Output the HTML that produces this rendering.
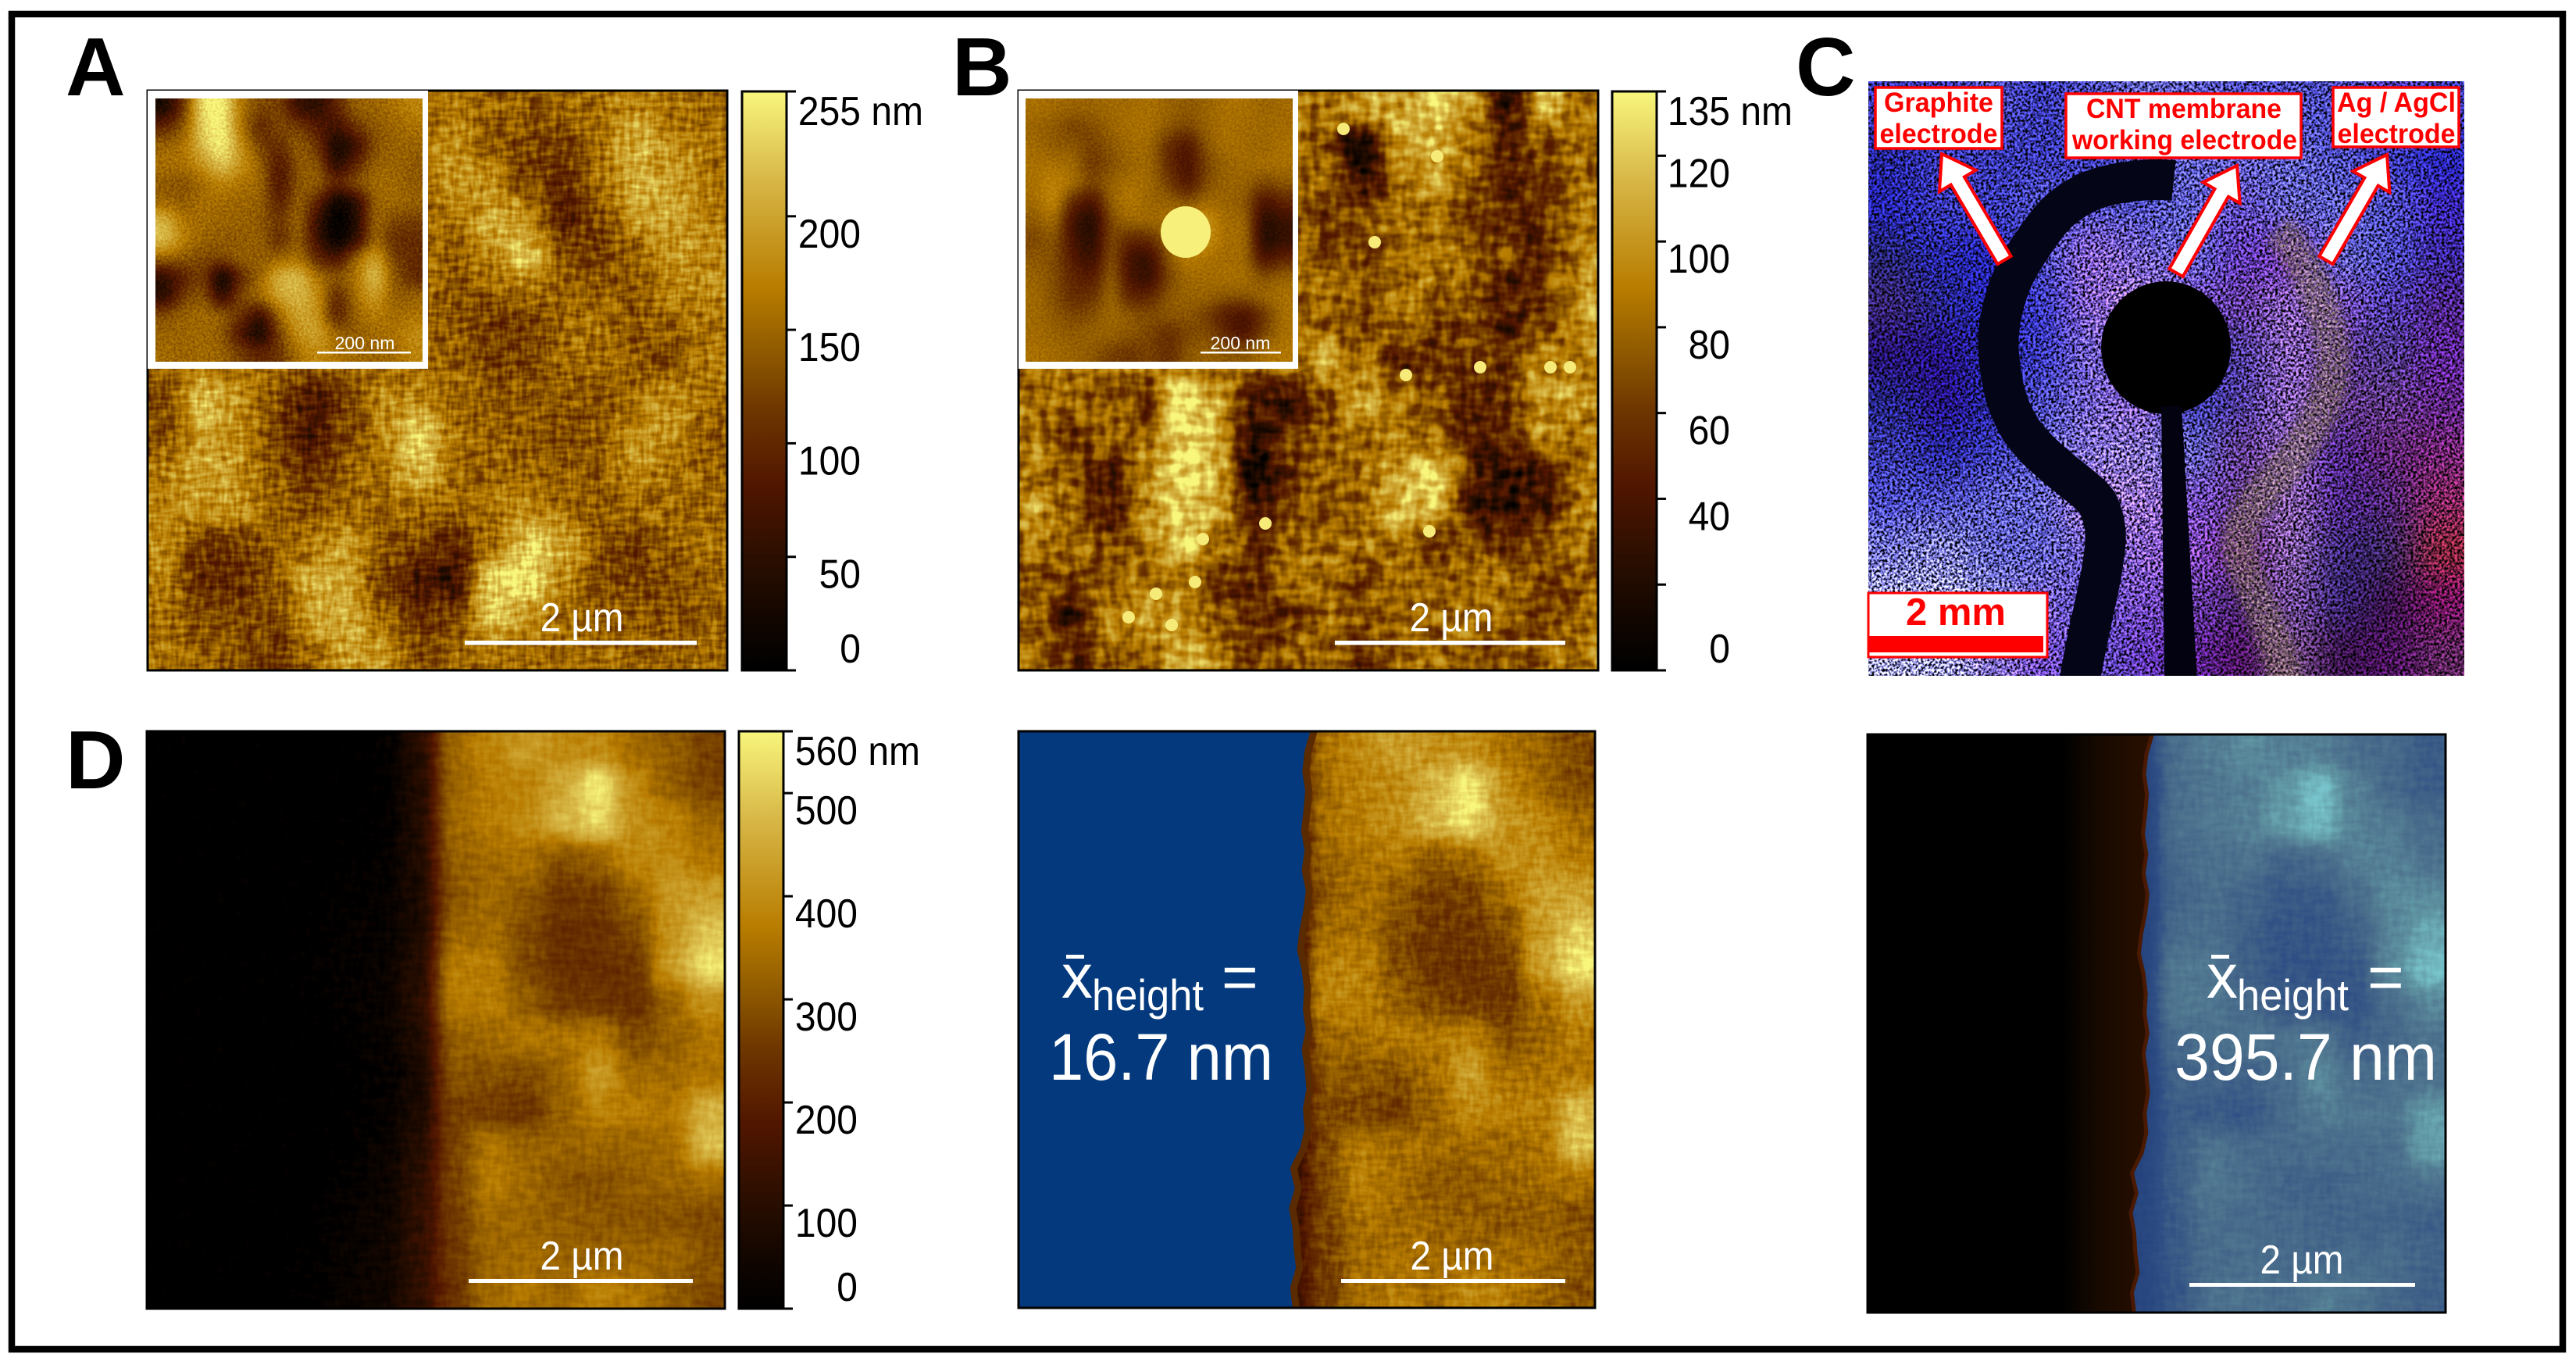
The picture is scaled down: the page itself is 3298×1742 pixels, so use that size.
<!DOCTYPE html>
<html lang="en">
<head>
<meta charset="utf-8">
<title>AFM height maps of CNT membrane</title>
<style>
html,body{margin:0;padding:0;background:#fff;}
svg{display:block;font-family:"Liberation Sans",Arial,sans-serif;}
</style>
</head>
<body>
<svg id="fig" xmlns="http://www.w3.org/2000/svg" width="3298" height="1742" viewBox="0 0 3298 1742">
<defs id="defs">
  <clipPath id="clipA"><rect x="189" y="116" width="742" height="742"/></clipPath>
  <clipPath id="clipAi"><rect x="199" y="126" width="342" height="337"/></clipPath>
  <clipPath id="clipB"><rect x="1304" y="116" width="742" height="742"/></clipPath>
  <clipPath id="clipBi"><rect x="1313" y="126" width="342" height="337"/></clipPath>
  <clipPath id="clipC"><rect x="2392" y="104" width="763" height="761"/></clipPath>
  <clipPath id="clipD"><rect x="188" y="936" width="740" height="739"/></clipPath>
  <clipPath id="clipM"><rect x="1304" y="936" width="738" height="738"/></clipPath>
  <clipPath id="clipR"><rect x="2391" y="940" width="740" height="740"/></clipPath>
  <filter id="speckC" filterUnits="userSpaceOnUse" x="2300" y="20" width="950" height="940" color-interpolation-filters="sRGB">
    <feGaussianBlur in="SourceGraphic" stdDeviation="22" result="h"/>
    <feTurbulence type="fractalNoise" baseFrequency=".3" numOctaves="3" seed="9"/>
    <feColorMatrix values="2.6 0 0 0 -.8  2.6 0 0 0 -.8  2.6 0 0 0 -.8  0 0 0 0 1" result="n"/>
    <feComposite in="h" in2="n" operator="arithmetic" k1="2" k2="0" k3="0" k4="0" result="m"/>
    <feColorMatrix in="m" values="1 0 0 0 0  0 1 0 0 0  0 0 1 0 0  0 0 0 0 1"/>
  </filter>
  <filter id="speckS" filterUnits="userSpaceOnUse" x="2300" y="20" width="950" height="940" color-interpolation-filters="sRGB">
    <feGaussianBlur in="SourceGraphic" stdDeviation="6" result="h"/>
    <feTurbulence type="fractalNoise" baseFrequency=".3" numOctaves="3" seed="21"/>
    <feColorMatrix values="2.6 0 0 0 -.8  2.6 0 0 0 -.8  2.6 0 0 0 -.8  0 0 0 1 0" result="n"/>
    <feComposite in="h" in2="n" operator="arithmetic" k1="2" k2="0" k3="0" k4="0"/>
  </filter>
  <linearGradient id="cbar" x1="0" y1="1" x2="0" y2="0"></linearGradient>
  <linearGradient id="rightMask" x1="0" x2="1" y1="0" y2="0">
    <stop offset="0" stop-color="#000"/><stop offset=".68" stop-color="#000"/><stop offset=".8" stop-color="#160900"/><stop offset="1" stop-color="#2a1000"/>
  </linearGradient>
</defs>

<rect x="0" y="0" width="3298" height="1742" fill="#fff"/>
<rect x="15" y="18" width="3266" height="1709" fill="none" stroke="#000" stroke-width="8.5"/>

<g id="panelA"></g>
<g id="panelB"></g>
<g id="panelC"></g>
<g id="panelD"></g>
<g id="panelM"></g>
<g id="panelR"></g>
<g id="bars"></g>
<g id="overlay">
  <g fill="#000" font-weight="700" font-size="106">
    <text x="84" y="122">A</text>
    <text x="1219" y="122">B</text>
    <text x="2299" y="122">C</text>
    <text x="84" y="1009">D</text>
  </g>

  <g fill="#fff" font-size="52" text-anchor="middle">
    <text x="745" y="808" textLength="107" lengthAdjust="spacingAndGlyphs">2 µm</text>
    <text x="1858" y="808" textLength="107" lengthAdjust="spacingAndGlyphs">2 µm</text>
    <text x="745" y="1625" textLength="107" lengthAdjust="spacingAndGlyphs">2 µm</text>
    <text x="1859" y="1625" textLength="107" lengthAdjust="spacingAndGlyphs">2 µm</text>
    <text x="2947" y="1630" textLength="107" lengthAdjust="spacingAndGlyphs">2 µm</text>
  </g>
  <g fill="#fff">
    <rect x="595" y="820" width="297" height="5.5"/>
    <rect x="1709" y="820" width="295" height="5.5"/>
    <rect x="600" y="1637" width="287" height="5"/>
    <rect x="1717" y="1637" width="287" height="5"/>
    <rect x="2803" y="1642" width="289" height="5"/>
    <rect x="406" y="450" width="120" height="2.5"/>
    <rect x="1537" y="450" width="103" height="2.5"/>
  </g>
  <g fill="#fff" font-size="23" text-anchor="middle">
    <text x="467" y="447">200 nm</text>
    <text x="1588" y="447">200 nm</text>
  </g>

  <g id="callouts">
    <rect x="2401" y="112" width="162" height="78" fill="#fff" stroke="#f00" stroke-width="3.5"/>
    <rect x="2645" y="120" width="301" height="82" fill="#fff" stroke="#f00" stroke-width="3.5"/>
    <rect x="2987" y="112" width="161" height="76" fill="#fff" stroke="#f00" stroke-width="3.5"/>
    <g fill="#f00" font-weight="700" font-size="35" text-anchor="middle">
      <text x="2482" y="143" textLength="140" lengthAdjust="spacingAndGlyphs">Graphite</text>
      <text x="2482" y="183" textLength="151" lengthAdjust="spacingAndGlyphs">electrode</text>
      <text x="2796" y="151" textLength="250" lengthAdjust="spacingAndGlyphs">CNT membrane</text>
      <text x="2797" y="191" textLength="288" lengthAdjust="spacingAndGlyphs">working electrode</text>
      <text x="3068" y="143" textLength="152" lengthAdjust="spacingAndGlyphs">Ag / AgCl</text>
      <text x="3068" y="183" textLength="151" lengthAdjust="spacingAndGlyphs">electrode</text>
    </g>
    <rect x="2392" y="759" width="229" height="82" fill="#fff" stroke="#f00" stroke-width="3"/>
    <rect x="2392" y="814" width="224" height="21" fill="#f00"/>
    <text x="2504" y="800" fill="#f00" font-weight="700" font-size="49" text-anchor="middle">2 mm</text>
  </g>

  <g fill="#fff">
    <text x="1359" y="1277" font-size="80">x</text>
    <rect x="1365" y="1222" width="23" height="5"/>
    <text x="1398" y="1293" font-size="56" textLength="143" lengthAdjust="spacingAndGlyphs">height</text>
    <text x="1564" y="1278" font-size="80">=</text>
    <text x="1343" y="1382" font-size="84" textLength="287" lengthAdjust="spacingAndGlyphs">16.7 nm</text>
    <text x="2825" y="1277" font-size="80">x</text>
    <rect x="2831" y="1222" width="23" height="5"/>
    <text x="2864" y="1293" font-size="56" textLength="143" lengthAdjust="spacingAndGlyphs">height</text>
    <text x="3031" y="1278" font-size="80">=</text>
    <text x="2784" y="1382" font-size="84" textLength="336" lengthAdjust="spacingAndGlyphs">395.7 nm</text>
  </g>
</g>

<script>
// ---- colour scale (position in %, colour)
const goldPositions = [0, 9, 19, 32, 45, 55, 66, 85, 100];
const goldColors = ['#000000', '#120600', '#2a0e00', '#511600', '#6e3600', '#8f5a00', '#b87c00', '#d8b848', '#f8f67c'];
const bluePositions = [0, 40, 55, 70, 85, 100];
const blueColors = ['#1e3a78', '#2f4f85', '#436488', '#527a92', '#629aa6', '#78c4cc'];

// ---- colourbar ticks
const ticksA = [0, 50, 100, 150, 200, 255];
const labelsA = ['0', '50', '100', '150', '200', '255'];
const ticksB = [0, 20, 40, 60, 80, 100, 120, 135];
const labelsB = ['0', '', '40', '60', '80', '100', '120', '135'];
const ticksD = [0, 100, 200, 300, 400, 500, 560];
const labelsD = ['0', '100', '200', '300', '400', '500', '560'];

// ---- height maps, % of colour scale
const heightsA = [
[60,60,60,60,60,60,60,60,62,58,55,58,62,68,62,60],
[60,60,60,60,60,60,60,60,72,55,50,48,60,80,68,62],
[60,60,60,60,60,60,60,60,72,68,50,42,62,80,75,62],
[60,60,60,60,60,60,60,60,62,78,70,36,52,72,75,65],
[60,60,60,60,60,60,60,60,55,70,86,52,48,58,72,70],
[60,60,60,60,60,60,60,60,55,55,62,58,56,55,68,68],
[60,60,60,60,60,60,60,60,55,48,48,58,62,54,58,62],
[60,60,60,60,60,60,60,60,58,50,50,60,60,56,50,66],
[50,85,70,55,32,48,68,68,58,55,55,56,52,62,72,60],
[52,75,68,50,34,50,66,92,60,58,55,52,55,72,68,55],
[66,76,70,55,42,58,62,82,60,58,60,55,58,68,62,58],
[66,72,72,58,52,58,58,62,58,62,68,60,55,60,60,58],
[70,46,48,56,64,74,55,50,42,60,86,78,52,50,58,62],
[65,40,44,54,76,76,48,35,26,90,92,66,52,48,52,58],
[62,50,52,50,74,78,58,44,50,85,72,60,56,56,52,56],
[62,58,55,45,58,74,72,52,58,62,58,60,60,58,58,60]];
const heightsAInset = [
[15,45,95,98,62,50,50,25,22,40,58,58,62,68],
[40,55,90,98,62,38,52,48,35,28,45,55,58,62],
[58,62,85,98,70,48,42,58,45,12,25,52,58,58],
[62,62,72,88,72,58,32,55,55,18,40,58,58,55],
[55,52,60,68,62,60,30,55,58,42,55,60,60,55],
[58,55,62,60,58,58,36,58,40,8,20,58,60,58],
[82,62,60,58,58,55,45,60,25,3,18,60,50,48],
[85,66,58,55,55,58,40,58,28,5,22,60,42,42],
[58,55,50,52,58,55,58,62,40,30,60,78,48,42],
[22,38,50,6,42,58,82,85,62,55,62,88,55,40],
[20,48,55,20,52,62,78,82,72,38,62,76,55,58],
[52,58,60,58,45,25,60,78,72,35,58,66,60,62],
[58,58,60,55,30,10,50,72,78,58,55,60,62,70],
[60,58,60,58,48,40,45,62,70,62,60,58,60,68]];
const heightsB = [
[60,60,60,60,60,60,60,60,60,75,72,82,70,30,78,60],
[60,60,60,60,60,60,60,60,55,18,75,72,62,40,55,60],
[60,60,60,60,60,60,60,60,60,30,58,72,58,40,45,60],
[60,60,60,60,60,60,60,60,48,55,62,62,45,45,45,65],
[60,60,60,60,60,60,60,60,55,50,58,62,58,50,42,65],
[60,60,60,60,60,60,60,60,60,55,60,62,55,40,50,70],
[60,60,60,60,60,60,60,60,58,50,62,50,52,38,48,72],
[60,60,60,60,60,60,60,60,78,62,40,45,48,50,70,60],
[60,60,55,48,90,75,35,30,55,72,68,55,42,45,72,70],
[62,45,62,55,85,72,30,50,55,60,62,55,40,45,70,60],
[62,58,32,70,85,78,18,45,62,58,72,88,45,30,35,62],
[70,55,38,65,85,75,35,55,50,58,80,78,35,30,40,65],
[62,62,50,62,82,62,45,60,62,62,62,50,55,45,55,62],
[55,50,55,62,62,50,45,58,62,48,60,55,62,60,50,55],
[58,30,70,72,68,55,42,48,62,55,60,58,62,60,45,60],
[60,45,55,55,78,62,48,55,60,45,58,60,55,52,58,65]];
const heightsBInset = [
[62,60,58,58,60,60,62,58,55,58,62,62,58,60],
[58,55,48,52,58,62,62,55,50,58,62,60,60,60],
[60,55,55,48,55,60,60,42,32,55,62,60,58,62],
[62,62,60,45,52,58,60,42,30,50,58,60,62,62],
[62,68,62,50,58,62,60,48,32,52,58,58,50,55],
[60,70,40,30,58,65,58,58,52,60,58,55,30,40],
[55,62,28,18,52,60,60,62,70,72,60,60,20,28],
[50,55,30,20,52,40,42,58,72,72,60,62,18,25],
[55,52,35,25,55,28,25,55,66,62,60,60,30,40],
[58,52,40,35,58,30,24,50,60,60,62,62,52,58],
[60,52,42,44,60,38,40,55,58,58,55,55,60,62],
[60,55,50,52,60,55,52,55,55,48,35,30,45,62],
[60,58,55,58,58,55,50,42,50,52,40,30,50,62],
[62,60,58,55,48,45,50,42,55,58,55,55,62,64]];
const heightsD = [
[0,0,0,0,0,0,2,18,62,70,78,72,72,62,58,50],
[0,0,0,0,0,0,2,16,60,68,70,82,100,72,58,50],
[0,0,0,0,0,0,2,16,62,68,72,86,96,74,70,60],
[0,0,0,0,0,1,3,16,58,62,65,54,60,72,72,65],
[0,0,0,0,0,3,4,14,55,62,56,47,48,60,78,78],
[0,0,0,0,1,4,5,14,60,62,52,44,45,52,75,90],
[0,0,0,0,2,4,6,18,68,68,52,44,44,46,78,98],
[0,0,0,0,1,4,6,20,68,68,58,48,46,44,60,75],
[0,0,0,0,0,2,5,16,58,62,66,65,68,52,58,65],
[0,0,0,0,0,1,4,12,55,54,52,60,78,62,62,65],
[0,0,0,0,0,1,4,14,50,48,46,58,70,68,66,85],
[0,0,0,0,0,2,6,18,50,66,60,60,60,60,62,88],
[0,0,0,0,0,3,7,20,50,68,62,55,54,58,60,62],
[0,0,0,0,1,5,8,22,48,62,60,58,56,55,55,52],
[0,0,0,0,2,6,9,22,48,60,62,60,58,60,60,55],
[0,0,0,0,2,6,9,22,45,62,65,60,70,66,58,52]];
// ---- photograph colours of panel C
const photoC = [
['33a','33a','44b','33a','44b','55b','55c','44b','44b','44b','43a','33a'],
['228','33a','33a','33a','33a','44b','55c','55c','55c','44b','33a','22a'],
['22a','33a','33a','44b','44b','44b','55c','54b','55b','55c','44b','32a'],
['226','229','22a','44b','75c','65c','55c','53a','63a','55b','44b','328'],
['326','227','22a','33b','75c','86c','64b','538','75a','64a','439','427'],
['216','217','228','33b','65c','75c','338','438','75a','538','437','528'],
['227','217','228','44b','65c','75c','339','438','75a','537','537','527'],
['339','228','33a','55c','76d','76c','55b','537','75a','427','526','626'],
['44c','44b','55c','55c','86c','86c','64b','537','759','427','426','725'],
['66d','77d','55c','55c','65c','75c','74b','526','759','326','325','723'],
['99f','99f','77d','65c','54b','64b','538','426','648','326','314','615'],
['99e','99f','76c','64c','54b','53a','528','415','647','314','415','525']];
// ---- membrane edge, fraction of panel width, top to bottom
const edgeFractions = [.507,.497,.493,.498,.495,.491,.497,.492,.499,.495,.488,.484,.492,.496,.494,.499,.492,.497,.500,.494,.497,.489,.472,.480,.470,.476,.478,.482,.472,.476];

const NS = 'http://www.w3.org/2000/svg';
function make(tag, attrs, parent) {
  const el = document.createElementNS(NS, tag);
  for (const k in attrs) el.setAttribute(k, attrs[k]);
  parent.appendChild(el);
  return el;
}
function hex2rgb(h) { return [1, 3, 5].map(i => parseInt(h.substr(i, 2), 16)); }
function scaleRgb(v, positions, colors) {
  let i = 0;
  while (i < positions.length - 2 && v > positions[i + 1]) i++;
  const t = Math.max(0, Math.min(1, (v - positions[i]) / (positions[i + 1] - positions[i])));
  const a = hex2rgb(colors[i]), b = hex2rgb(colors[i + 1]);
  return a.map((c, n) => c + (b[n] - c) * t);
}
function tableFor(positions, colors, ch) {
  const out = [];
  for (let k = 0; k <= 100; k += 2) out.push((scaleRgb(k, positions, colors)[ch] / 255).toFixed(3));
  return out.join(' ');
}
const defs = document.getElementById('defs');

// height-to-colour filter: blur the height field, add surface grain, stretch contrast, then apply the colour scale
function surfaceFilter(id, box, blur, freq1, freq2, amp, seed, positions, colors, bias, contrast) {
  const c = contrast || 1;
  const f = make('filter', { id: id, filterUnits: 'userSpaceOnUse', x: box[0] - 70, y: box[1] - 70, width: box[2] + 140, height: box[3] + 140, 'color-interpolation-filters': 'sRGB' }, defs);
  const grey = '2.5 0 0 0 -.75  2.5 0 0 0 -.75  2.5 0 0 0 -.75  0 0 0 0 1';
  make('feGaussianBlur', { in: 'SourceGraphic', stdDeviation: blur, result: 'h' }, f);
  make('feTurbulence', { type: 'fractalNoise', baseFrequency: freq1, numOctaves: 2, seed: seed }, f);
  make('feColorMatrix', { values: grey, result: 'n1' }, f);
  make('feTurbulence', { type: 'fractalNoise', baseFrequency: freq2, numOctaves: 2, seed: seed + 5 }, f);
  make('feColorMatrix', { values: grey, result: 'n2' }, f);
  make('feComposite', { in: 'n1', in2: 'n2', operator: 'arithmetic', k1: 0, k2: .5, k3: .5, k4: 0, result: 'n' }, f);
  make('feComposite', { in: 'h', in2: 'n', operator: 'arithmetic', k1: 0, k2: c, k3: amp, k4: -amp / 2 - (bias || 0) - (c - 1) * .6, result: 'hn' }, f);
  const ct = make('feComponentTransfer', { in: 'hn' }, f);
  make('feFuncR', { type: 'table', tableValues: tableFor(positions, colors, 0) }, ct);
  make('feFuncG', { type: 'table', tableValues: tableFor(positions, colors, 1) }, ct);
  make('feFuncB', { type: 'table', tableValues: tableFor(positions, colors, 2) }, ct);
  make('feFuncA', { type: 'linear', slope: 0, intercept: 1 }, ct);
}
function heatmap(parent, rows, x, y, w, h, clip, filterId) {
  const outer = make('g', { 'clip-path': 'url(#' + clip + ')' }, parent);
  const inner = make('g', { filter: 'url(#' + filterId + ')' }, outer);
  const nr = rows.length, nc = rows[0].length, pad = 70;
  rows.forEach((row, j) => row.forEach((v, i) => {
    const x0 = i === 0 ? x - pad : x + i * w / nc;
    const x1 = i === nc - 1 ? x + w + pad : x + (i + 1) * w / nc;
    const y0 = j === 0 ? y - pad : y + j * h / nr;
    const y1 = j === nr - 1 ? y + h + pad : y + (j + 1) * h / nr;
    const g = Math.round(v * 2.55);
    const cell = make('rect', { x: x0, y: y0, width: x1 - x0 + .6, height: y1 - y0 + .6, fill: 'rgb(' + g + ',' + g + ',' + g + ')' }, inner);
    
    
  }));
  return outer;
}
function outline(parent, x, y, w, h) {
  const o = make('rect', { x: x, y: y, width: w, height: h, fill: 'none', stroke: '#000', 'stroke-width': 3 }, parent);
  
  
}

// ---- panel A
surfaceFilter('surfA', [189, 116, 742, 742], 14, '.16 .04', '.04 .16', .34, 4, goldPositions, goldColors, 0, 1.2);
surfaceFilter('surfAi', [199, 126, 342, 337], 10, '.3', '.36', .16, 3, goldPositions, goldColors, 0, 1.1);
const pA = document.getElementById('panelA');
heatmap(pA, heightsA, 189, 116, 742, 742, 'clipA', 'surfA');
outline(pA, 189, 116, 742, 742);
const aBorder = make('rect', { x: 189, y: 116, width: 359, height: 356, fill: '#fff' }, pA);


heatmap(pA, heightsAInset, 199, 126, 342, 337, 'clipAi', 'surfAi');

// ---- panel B
surfaceFilter('surfB', [1304, 116, 742, 742], 14, '.09 .035', '.035 .09', .42, 11, goldPositions, goldColors, 0, 1.4);
surfaceFilter('surfBi', [1313, 126, 342, 337], 10, '.3', '.36', .1, 13, goldPositions, goldColors, 0, 1.1);
const pB = document.getElementById('panelB');
heatmap(pB, heightsB, 1304, 116, 742, 742, 'clipB', 'surfB');
const particleXs = [1500, 1720, 1760, 1800, 1840, 2010, 1985, 1895, 1830, 1540, 1620, 1480, 1445, 1530];
const particleYs = [800, 165, 310, 480, 200, 470, 470, 470, 680, 690, 670, 760, 790, 745];
particleXs.forEach((px, i) => {
  const dot = make('circle', { cx: px, cy: particleYs[i], r: 8, fill: '#f6ea78' }, pB);
  
  
});
outline(pB, 1304, 116, 742, 742);
const bBorder = make('rect', { x: 1304, y: 116, width: 358, height: 356, fill: '#fff' }, pB);


heatmap(pB, heightsBInset, 1313, 126, 342, 337, 'clipBi', 'surfBi');
const blob = make('ellipse', { cx: 1518, cy: 297, rx: 32, ry: 33, fill: '#f7f07a' }, pB);



// ---- panel C
const pC = document.getElementById('panelC');
const cBase = make('g', { 'clip-path': 'url(#clipC)' }, pC);
const cCells = make('g', { filter: 'url(#speckC)' }, cBase);
photoC.forEach((row, j) => row.forEach((h, i) => {
  const x0 = i === 0 ? 2322 : 2392 + i * 763 / 12;
  const x1 = i === 11 ? 3225 : 2392 + (i + 1) * 763 / 12;
  const y0 = j === 0 ? 34 : 104 + j * 761 / 12;
  const y1 = j === 11 ? 935 : 104 + (j + 1) * 761 / 12;
  const cell = make('rect', { x: x0, y: y0, width: x1 - x0 + .6, height: y1 - y0 + .6, fill: '#' + h[0] + h[0] + h[1] + h[1] + h[2] + h[2] }, cCells);
  
  
}));
const cInk = make('g', { 'clip-path': 'url(#clipC)' }, pC);
const silver = make('path', { d: 'M2916 294C2945 320 2985 400 2987 459C2988 510 2955 570 2903 623C2875 655 2862 680 2867 706C2875 745 2915 810 2929 880', fill: 'none', stroke: '#e6c0b0', 'stroke-width': 42, opacity: .6, filter: 'url(#speckS)' }, cInk);


const graphite = make('path', { d: 'M2783 231C2755 228 2700 232 2669 248C2640 262 2625 280 2611 300C2590 330 2575 355 2569 377C2560 405 2557 430 2559 453C2562 490 2568 515 2582 541C2595 565 2615 582 2637 601C2660 620 2678 632 2686 645C2695 665 2697 680 2695 700C2692 730 2685 760 2679 788C2673 815 2667 845 2661 880', fill: 'none', stroke: '#050518', 'stroke-width': 52 }, cInk);


const disc = make('ellipse', { cx: 2773, cy: 445, rx: 83, ry: 85, fill: '#000' }, cInk);


const stem = make('polygon', { points: '2767,520 2793,520 2813,870 2771,870', fill: '#020210' }, cInk);



function arrow(tx, ty, px, py, name) {
  const len = Math.hypot(px - tx, py - ty);
  const ux = (px - tx) / len, uy = (py - ty) / len, nx = -uy, ny = ux;
  const hw = 10, head = 40, hh = 27;
  const bx = px - ux * head, by = py - uy * head;
  const pts = [[tx + nx * hw, ty + ny * hw], [bx + nx * hw, by + ny * hw], [bx + nx * hh, by + ny * hh], [px, py],
               [bx - nx * hh, by - ny * hh], [bx - nx * hw, by - ny * hw], [tx - nx * hw, ty - ny * hw]];
  const a = make('polygon', { points: pts.map(p => p.join(',')).join(' '), fill: '#fff', stroke: '#f00', 'stroke-width': 4 }, document.getElementById('callouts'));
  
  
}
arrow(2566, 333, 2486, 197, 'graphite-arrow');
arrow(2786, 349, 2864, 212, 'cnt-arrow');
arrow(2978, 333, 3056, 198, 'agcl-arrow');

// ---- panel D and masked copies
surfaceFilter('surfD', [188, 936, 740, 739], 12, '.04 .14', '.14 .05', .1, 7, goldPositions, goldColors, .02);
surfaceFilter('surfM', [1304, 936, 738, 738], 12, '.04 .14', '.14 .05', .16, 17, goldPositions, goldColors);
surfaceFilter('surfR', [2391, 940, 740, 740], 12, '.04 .14', '.14 .05', .12, 27, bluePositions, blueColors);
const pD = document.getElementById('panelD');
heatmap(pD, heightsD, 188, 936, 740, 739, 'clipD', 'surfD');
outline(pD, 188, 936, 740, 739);

function edgePoints(x, y, w, h, shift) {
  const n = edgeFractions.length - 1;
  return edgeFractions.map((f, j) => [x + (f + shift) * w, y + j * h / n]);
}
const pM = document.getElementById('panelM');
heatmap(pM, heightsD, 1304, 936, 738, 738, 'clipM', 'surfM');
const mEdge = edgePoints(1304, 936, 738, 738, 0);
const mMaskPts = [[1304, 936]].concat(mEdge, [[1304, 1674]]);
const mMask = make('polygon', { points: mMaskPts.map(p => p.join(',')).join(' '), fill: '#043a7d' }, pM);


const mLine = make('polyline', { points: mEdge.map(p => (p[0] + 4) + ',' + p[1]).join(' '), fill: 'none', stroke: '#5a2a00', 'stroke-width': 9 }, pM);


outline(pM, 1304, 936, 738, 738);

const pR = document.getElementById('panelR');
heatmap(pR, heightsD, 2391, 940, 740, 740, 'clipR', 'surfR');
const rEdge = edgePoints(2391, 940, 740, 740, -.012);
const rMaskPts = [[2391, 940]].concat(rEdge, [[2391, 1680]]);
const rMask = make('polygon', { points: rMaskPts.map(p => p.join(',')).join(' '), fill: 'url(#rightMask)' }, pR);


const rLine = make('polyline', { points: rEdge.map(p => (p[0] - 2) + ',' + p[1]).join(' '), fill: 'none', stroke: '#4a1a00', 'stroke-width': 5 }, pR);


outline(pR, 2391, 940, 740, 740);

// ---- colourbars
const grad = document.getElementById('cbar');
goldPositions.forEach((p, i) => make('stop', { offset: p + '%', 'stop-color': goldColors[i] }, grad));
function colorbar(x, top, bottom, maxV, ticks, labels, right, name) {
  const g = document.getElementById('bars');
  const yOf = v => bottom - (v / maxV) * (bottom - top);
  const bar = make('rect', { x: x, y: top, width: 57, height: bottom - top, fill: 'url(#cbar)', stroke: '#000', 'stroke-width': 3 }, g);
  
  
  ticks.forEach((v, i) => {
    const y = yOf(v);
    const t = make('rect', { x: x + 57, y: y - 1.5, width: 12, height: 3, fill: '#000' }, g);
    
    
    if (!labels[i]) return;
    const isTop = i === ticks.length - 1, isZero = v === 0;
    const cy = isZero ? y - 28 : isTop ? y + 25 : y + 22;
    const digits = labels[i].length * .556 * 48;
    const text = make('text', { y: cy + 18, 'font-size': 52, fill: '#000', lengthAdjust: 'spacingAndGlyphs' }, g);
    text.setAttribute('x', right - digits);
    text.setAttribute('textLength', isTop ? digits + 1.667 * 48 : digits);
    text.textContent = isTop ? labels[i] + ' nm' : labels[i];
    
    
  });
}
colorbar(950, 117, 858, 255, ticksA, labelsA, 1102, 'colorbar-a');
colorbar(2064, 117, 858, 135, ticksB, labelsB, 2215, 'colorbar-b');
colorbar(946, 936, 1675, 560, ticksD, labelsD, 1098, 'colorbar-d');
</script>
</svg>
</body>
</html>
